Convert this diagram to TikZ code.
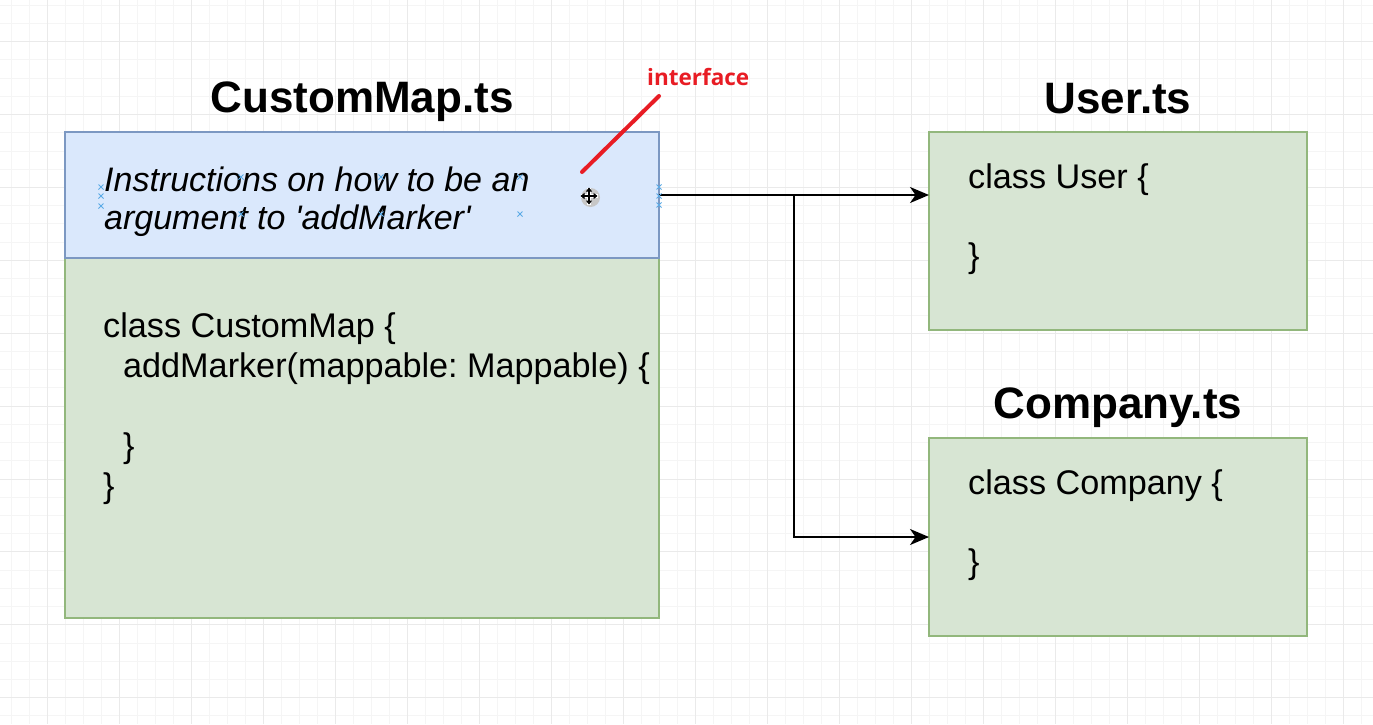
\documentclass[tikz,border=0pt]{standalone}
\usepackage{fontspec}
\setmainfont{Liberation Sans}[Ligatures=TeXOff]
\newfontfamily\lblfont{Open Sans}
\usetikzlibrary{arrows.meta}
\frenchspacing
\definecolor{gridminor}{HTML}{F5F5F5}
\definecolor{gridmajor}{HTML}{EAEAEA}
\definecolor{bluefill}{HTML}{DAE8FC}
\definecolor{bluedraw}{HTML}{7C98C2}
\definecolor{greenfill}{HTML}{D7E5D3}
\definecolor{greendraw}{HTML}{92B77C}
\definecolor{annot}{RGB}{232,28,36}
\definecolor{handle}{HTML}{5AAAE6}
\tikzset{
  gridmin/.style={draw=gridminor, line width=0.9pt},
  gridmaj/.style={draw=gridmajor, line width=0.9pt},
  boxbase/.style={inner sep=0pt, outer sep=0pt, line width=2pt, anchor=north west},
  greenbox/.style={boxbase, fill=greenfill, draw=greendraw},
  bluebox/.style={boxbase, fill=bluefill, draw=bluedraw},
  titletext/.style={inner sep=0pt, anchor=base, font=\bfseries\fontsize{44}{50}\selectfont},
  codetext/.style={inner sep=0pt, anchor=base west, font=\fontsize{34.2}{40}\selectfont},
  notetext/.style={inner sep=0pt, anchor=base west, font=\itshape\fontsize{34}{40}\selectfont},
  conn/.style={line width=1.7pt, -{Stealth[length=19pt,width=16pt,inset=5.5pt]}},
  annotline/.style={draw=annot, line width=4pt, line cap=round},
  annotlbl/.style={inner sep=0pt, anchor=base west, text=annot, font=\lblfont\bfseries\fontsize{22.5}{26}\selectfont},
  handlemark/.style={draw=handle, line width=0.9pt},
}
\begin{document}
\begin{tikzpicture}[x=1pt,y=-1pt]
\useasboundingbox (0,0) rectangle (1373,724);
\fill[white] (0,0) rectangle (1373,724);
% grid
\foreach \i in {-2,...,73} {
  \pgfmathsetmacro\xx{47.6+18.0*\i}
  \draw[gridmin] (\xx,0) -- (\xx,724);
}
\foreach \j in {-2,...,37} {
  \pgfmathsetmacro\yy{41.7+18.22*\j}
  \draw[gridmin] (0,\yy) -- (1373,\yy);
}
\foreach \i in {-1,...,18} {
  \pgfmathsetmacro\xx{47.6+72.0*\i}
  \draw[gridmaj] (\xx,0) -- (\xx,724);
}
\foreach \j in {-1,...,9} {
  \pgfmathsetmacro\yy{41.7+72.88*\j}
  \draw[gridmaj] (0,\yy) -- (1373,\yy);
}
% boxes
\node[greenbox, minimum width=594pt, minimum height=360pt] (cmap) at (65,258) {};
\node[bluebox, minimum width=594pt, minimum height=126pt] (iface) at (65,132) {};
\node[greenbox, minimum width=378pt, minimum height=198pt] (user) at (929,132) {};
\node[greenbox, minimum width=378pt, minimum height=198pt] (company) at (929,438) {};
% titles
\node[titletext] (tcm) at (362,112.5) {CustomMap.ts};
\node[titletext] (tus) at (1118,113) {User.ts};
\node[titletext] (tco) at (1118,418.5) {Company.ts};
% interface text
\node[notetext] (n1) at (104,191) {Instructions on how to be an};
\node[notetext] (n2) at (104,229) {argument to 'addMarker'};
% code texts
\node[codetext] (c1) at (103,337) {class CustomMap \{};
\node[codetext] (c2) at (123,377) {addMarker(mappable: Mappable) \{};
\node[codetext] (c3) at (123,457) {\}};
\node[codetext] (c4) at (103,497) {\}};
\node[codetext] (u1) at (968,188.5) {class User \{};
\node[codetext] (u2) at (968,267) {\}};
\node[codetext] (k1) at (968,494) {class Company \{};
\node[codetext] (k2) at (968,573) {\}};
% connectors
\coordinate (brx) at (794,0);
\coordinate (br) at (iface.east -| brx);
\draw[conn] (iface.east) -- (iface.east -| user.west);
\draw[conn] (br) |- (company.west);
% selection handles
\foreach \p in {(101,187),(101,196),(101,206),(659,187),(659,196),(659,205),(241,177),(381,177),(520,177),(241,214),(381,214),(520,214)}
  \draw[handlemark] \p ++(-2.5,-2.5) -- ++(5,5) \p ++(-2.5,2.5) -- ++(5,-5);
% move cursor
\coordinate (cur) at (589,196);
\fill[black!22] ([shift={(1.5,1.5)}]cur) circle (9.5);
\draw[white, line width=4.5pt] ([xshift=-8.5]cur) -- ([xshift=8.5]cur) ([yshift=-8.5]cur) -- ([yshift=8.5]cur);
\draw[black, line width=1.6pt, {Triangle[length=4pt,width=6pt]}-{Triangle[length=4pt,width=6pt]}] ([xshift=-8.5]cur) -- ([xshift=8.5]cur);
\draw[black, line width=1.6pt, {Triangle[length=4pt,width=6pt]}-{Triangle[length=4pt,width=6pt]}] ([yshift=-8.5]cur) -- ([yshift=8.5]cur);
% annotation
\node[annotlbl] (lbl) at (647,85.5) {interface};
\coordinate (ptrA) at (582,172);
\coordinate (ptrB) at (659,96);
\draw[annotline] (ptrA) -- (ptrB);
\end{tikzpicture}
\end{document}
